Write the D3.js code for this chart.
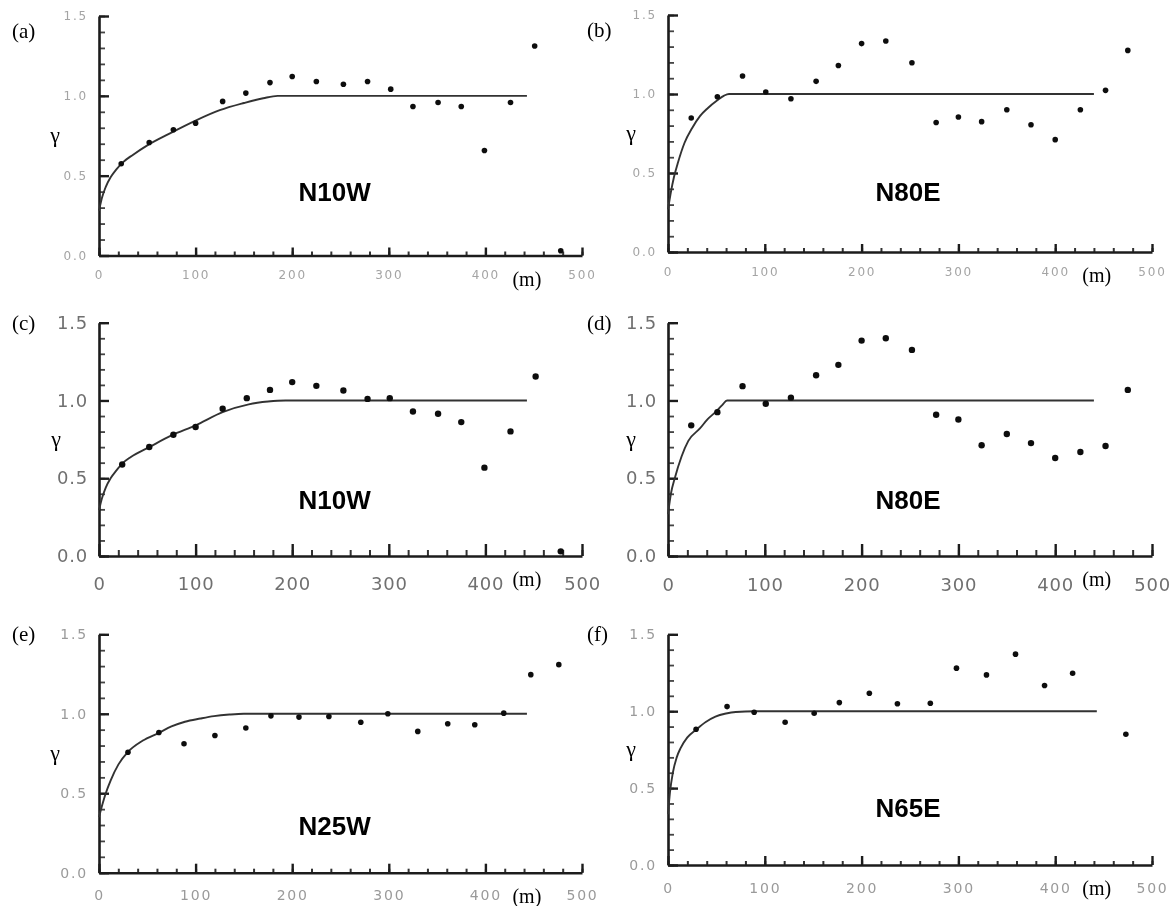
<!DOCTYPE html>
<html>
<head>
<meta charset="utf-8">
<script src="https://cdn.jsdelivr.net/npm/d3@7"></script>
<style>
  html, body { margin: 0; padding: 0; background: #fff; }
  svg { display: block; }
</style>
</head>
<body>
<svg id="chart" width="1173" height="906"></svg>
<script>
// ---- Experimental variograms: lag distance (m) and semivariance (gamma) ----
const panelLabels = ["(a)", "(b)", "(c)", "(d)", "(e)", "(f)"];
const directions  = ["N10W", "N80E", "N10W", "N80E", "N25W", "N65E"];

const lagA   = [23, 52, 77, 100, 128, 152, 177, 200, 225, 253, 278, 302, 325, 351, 375, 399, 426, 451, 478];
const gammaA = [0.575, 0.708, 0.788, 0.829, 0.965, 1.017, 1.083, 1.121, 1.09, 1.073, 1.09, 1.042, 0.933, 0.958, 0.933, 0.658, 0.958, 1.312, 0.03];

const lagB   = [24, 51, 77, 101, 127, 153, 176, 200, 225, 252, 277, 300, 324, 350, 375, 400, 426, 452, 475];
const gammaB = [0.848, 0.983, 1.114, 1.013, 0.97, 1.08, 1.18, 1.319, 1.335, 1.198, 0.82, 0.854, 0.825, 0.9, 0.805, 0.711, 0.9, 1.023, 1.276];

const lagC   = [24, 52, 77, 100, 128, 153, 177, 200, 225, 253, 278, 301, 325, 351, 375, 399, 426, 452, 478];
const gammaC = [0.588, 0.701, 0.78, 0.829, 0.947, 1.015, 1.068, 1.118, 1.094, 1.064, 1.01, 1.015, 0.929, 0.915, 0.861, 0.568, 0.801, 1.154, 0.03];

const lagD   = [24, 51, 77, 101, 127, 153, 176, 200, 225, 252, 277, 300, 324, 350, 375, 400, 426, 452, 475];
const gammaD = [0.84, 0.925, 1.092, 0.979, 1.017, 1.162, 1.229, 1.385, 1.4, 1.325, 0.908, 0.878, 0.712, 0.784, 0.726, 0.63, 0.669, 0.707, 1.068];

const lagE   = [30, 62, 88, 120, 152, 178, 207, 238, 271, 299, 330, 361, 389, 419, 447, 476];
const gammaE = [0.758, 0.882, 0.811, 0.863, 0.91, 0.987, 0.979, 0.983, 0.947, 1.0, 0.889, 0.937, 0.931, 1.004, 1.246, 1.309];

const lagF   = [29, 61, 89, 121, 151, 177, 208, 237, 271, 298, 329, 359, 389, 418, 473];
const gammaF = [0.883, 1.03, 0.993, 0.928, 0.987, 1.056, 1.117, 1.048, 1.052, 1.28, 1.236, 1.371, 1.167, 1.247, 0.85];

// ---- Fitted variogram models (vertices along each model curve) ----
const modelLagA   = [0, 3, 7, 12, 18, 25, 35, 50, 75, 100, 125, 150, 170, 185, 443];
const modelGammaA = [0.28, 0.36, 0.43, 0.49, 0.54, 0.585, 0.63, 0.69, 0.77, 0.845, 0.91, 0.955, 0.985, 1.0, 1.0];

const modelLagB   = [0, 3, 6, 10, 17, 25, 33, 41, 51, 58, 63, 440];
const modelGammaB = [0.27, 0.38, 0.47, 0.56, 0.69, 0.785, 0.86, 0.91, 0.96, 0.99, 1.0, 1.0];

const modelLagC   = [0, 3, 7, 12, 18, 24, 33, 52, 75, 100, 128, 155, 175, 193, 443];
const modelGammaC = [0.295, 0.37, 0.44, 0.5, 0.55, 0.594, 0.637, 0.70, 0.775, 0.84, 0.925, 0.975, 0.993, 1.0, 1.0];

const modelLagD   = [0, 3, 7, 14, 21, 33, 41, 49, 56, 61, 440];
const modelGammaD = [0.27, 0.40, 0.50, 0.64, 0.74, 0.82, 0.88, 0.925, 0.97, 1.0, 1.0];

const modelLagE   = [0, 4, 7, 12, 20, 30, 45, 62, 75, 89, 105, 119, 135, 150, 443];
const modelGammaE = [0.35, 0.44, 0.5, 0.58, 0.68, 0.76, 0.83, 0.88, 0.92, 0.95, 0.97, 0.985, 0.995, 1.0, 1.0];

const modelLagF   = [0, 2, 5, 9, 13, 20, 29, 39, 49, 60, 70, 90, 443];
const modelGammaF = [0.33, 0.47, 0.6, 0.7, 0.76, 0.83, 0.88, 0.93, 0.965, 0.985, 0.995, 1.0, 1.0];

// ---- Axis ticks ----
const xTickValues  = [0, 100, 200, 300, 400, 500];
const xMinorValues = d3.range(0, 501, 20);
const yTickValues  = [0.0, 0.5, 1.0, 1.5];
const yMinorValues = d3.range(0, 15.1, 1).map(v => v / 10);
const unitLabel = "(m)";
const yLabel = "γ";

const lags   = [lagA, lagB, lagC, lagD, lagE, lagF];
const gammas = [gammaA, gammaB, gammaC, gammaD, gammaE, gammaF];
const modelLags   = [modelLagA, modelLagB, modelLagC, modelLagD, modelLagE, modelLagF];
const modelGammas = [modelGammaA, modelGammaB, modelGammaC, modelGammaD, modelGammaE, modelGammaF];

// ---- Layout of the six panels ----
// pixel frame of each plot, plus the look of its axis annotation
const frames = [
  { x0: 99,  x1: 582,  yBase: 255.5, yTop: 16,    labelColor: "#a4a4a4", labelSize: 12, xPad: 15, majorX: 8,  minorX: 4, letterDy: 22, gammaDx: -44, blur: 0.7 },
  { x0: 668, x1: 1152, yBase: 252,   yTop: 15,    labelColor: "#a4a4a4", labelSize: 12, xPad: 15, majorX: 8,  minorX: 4, letterDy: 22, gammaDx: -37, blur: 0.7 },
  { x0: 99,  x1: 582,  yBase: 556,   yTop: 322.7, labelColor: "#707070", labelSize: 18, xPad: 21, majorX: 12, minorX: 6, letterDy: 7,  gammaDx: -43, blur: 0.35 },
  { x0: 668, x1: 1152, yBase: 556,   yTop: 322.7, labelColor: "#707070", labelSize: 18, xPad: 22, majorX: 12, minorX: 6, letterDy: 7,  gammaDx: -37, blur: 0.35 },
  { x0: 99,  x1: 582,  yBase: 872.7, yTop: 634.3, labelColor: "#9a9a9a", labelSize: 14, xPad: 17, majorX: 9,  minorX: 4, letterDy: 7,  gammaDx: -44, blur: 0.6 },
  { x0: 668, x1: 1152, yBase: 865,   yTop: 634.3, labelColor: "#9a9a9a", labelSize: 14, xPad: 18, majorX: 9,  minorX: 4, letterDy: 7,  gammaDx: -37, blur: 0.6 }
];
// where the direction title sits, in data units
const titleAt = [
  { lag: 244, g: 0.34 }, { lag: 248, g: 0.32 },
  { lag: 244, g: 0.30 }, { lag: 248, g: 0.30 },
  { lag: 244, g: 0.24 }, { lag: 248, g: 0.31 }
];

const svg = d3.select("#chart");
const defs = svg.append("defs");

frames.forEach((f, i) => {
  const x = d3.scaleLinear().domain([0, 500]).range([f.x0, f.x1]);
  const y = d3.scaleLinear().domain([0, 1.5]).range([f.yBase, f.yTop]);

  defs.append("filter").attr("id", "soft" + i)
    .attr("x", "-5%").attr("y", "-5%").attr("width", "110%").attr("height", "110%")
    .append("feGaussianBlur").attr("stdDeviation", f.blur);

  const g = svg.append("g").attr("class", "panel").attr("filter", `url(#soft${i})`);

  // minor ticks (x every 20 m, y every 0.1)
  g.append("g")
    .attr("transform", `translate(0,${f.yBase})`)
    .call(d3.axisBottom(x).tickValues(xMinorValues).tickSize(-f.minorX).tickFormat(""))
    .call(s => s.select(".domain").remove())
    .call(s => s.selectAll("line").attr("stroke", "#333").attr("stroke-width", 2));
  g.append("g")
    .attr("transform", `translate(${f.x0},0)`)
    .call(d3.axisLeft(y).tickValues(yMinorValues).tickSize(-6).tickFormat(""))
    .call(s => s.select(".domain").remove())
    .call(s => s.selectAll("line").attr("stroke", "#444").attr("stroke-width", 1.8));

  // major ticks with labels
  const xAxis = g.append("g")
    .attr("transform", `translate(0,${f.yBase})`)
    .call(d3.axisBottom(x).tickValues(xTickValues).tickSizeInner(-f.majorX).tickSizeOuter(0).tickPadding(f.xPad)
      .tickFormat(d3.format("d")));
  const yAxis = g.append("g")
    .attr("transform", `translate(${f.x0},0)`)
    .call(d3.axisLeft(y).tickValues(yTickValues).tickSizeInner(-10).tickSizeOuter(0).tickPadding(11)
      .tickFormat(d3.format(".1f")));
  [xAxis, yAxis].forEach(a => {
    a.select(".domain").attr("stroke", "#1e1e1e").attr("stroke-width", 2.6);
    a.selectAll("line").attr("stroke", "#1e1e1e").attr("stroke-width", 2.4);
    a.selectAll("text")
      .attr("fill", f.labelColor)
      .style("font-family", "'DejaVu Sans', sans-serif")
      .style("font-size", f.labelSize + "px")
      .style("letter-spacing", (f.labelSize < 15 ? 1.8 : 0.8) + "px");
  });

  // fitted model
  const model = d3.zip(modelLags[i], modelGammas[i]);
  g.append("path")
    .datum(model)
    .attr("fill", "none")
    .attr("stroke", "#333")
    .attr("stroke-width", 1.9)
    .attr("d", d3.line().x(d => x(d[0])).y(d => y(d[1])).curve(d3.curveMonotoneX));

  // experimental points
  g.selectAll("circle.pt")
    .data(d3.zip(lags[i], gammas[i]))
    .join("circle")
    .attr("class", "pt")
    .attr("cx", d => x(d[0]))
    .attr("cy", d => y(d[1]))
    .attr("r", f.labelSize > 15 ? 3.2 : 2.8)
    .attr("fill", "#111");

  // direction title
  g.append("text")
    .attr("x", x(titleAt[i].lag))
    .attr("y", y(titleAt[i].g))
    .attr("text-anchor", "middle")
    .style("font-family", "'Liberation Sans', Arial, sans-serif")
    .style("font-weight", "bold")
    .style("font-size", "26px")
    .attr("fill", "#000")
    .text(directions[i]);

  // panel letter
  g.append("text")
    .attr("x", f.x0 - (i % 2 ? 81 : 87))
    .attr("y", f.yTop + f.letterDy)
    .style("font-family", "'Liberation Serif', 'Times New Roman', serif")
    .style("font-size", "21px")
    .attr("fill", "#000")
    .text(panelLabels[i]);

  // gamma axis label
  g.append("text")
    .attr("x", f.x0 + f.gammaDx)
    .attr("y", y(0.71))
    .attr("text-anchor", "middle")
    .style("font-family", "'Liberation Serif', 'Times New Roman', serif")
    .style("font-size", "22px")
    .attr("fill", "#000")
    .text(yLabel);

  // distance unit
  g.append("text")
    .attr("x", x(428))
    .attr("y", f.yBase + 30)
    .style("font-family", "'Liberation Serif', 'Times New Roman', serif")
    .style("font-size", "20px")
    .attr("fill", "#000")
    .text(unitLabel);
});
</script>
</body>
</html>
